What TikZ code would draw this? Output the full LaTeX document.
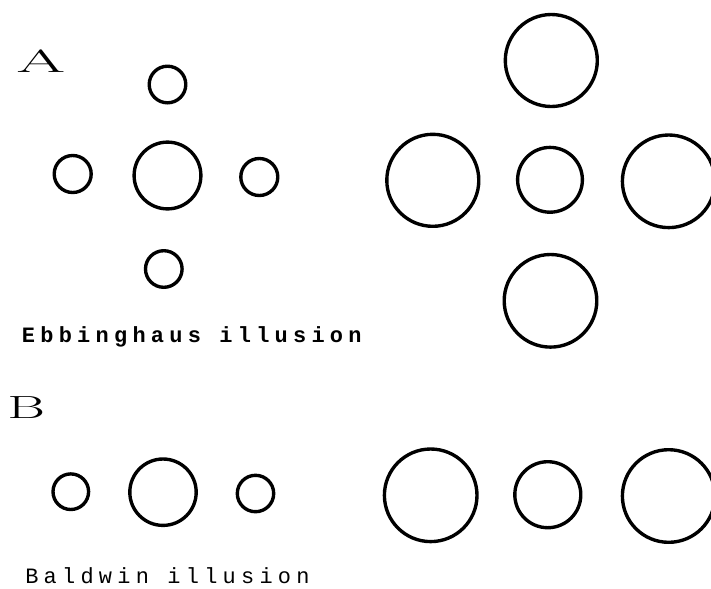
\documentclass[tikz,border=0pt]{standalone}
\usepackage{fontspec}
\usepackage{graphicx}
\newfontfamily\typefont{Liberation Mono}[LetterSpace=24]
\tikzset{
  ring/.style={draw=black,line width=2.4pt},
  panel/.style={font=\fontsize{22.8pt}{24pt}\selectfont,inner sep=0pt,anchor=base west},
  caption/.style={font=\typefont#1\fontsize{15.6pt}{18pt}\selectfont,inner sep=0pt,anchor=base west},
  caption/.default={},
}
\begin{document}
\begin{tikzpicture}[x=0.025cm,y=0.025cm]
  \useasboundingbox (0,0) rectangle (711,-588);
  \clip (0,0) rectangle (711,-588);
  % panel A: Ebbinghaus
  \node[panel] (lblA) at (16,-72) {\scalebox{2.2}[1]{A}};
  \foreach \x/\y/\r in {167.5/84.5/18.3, 72.7/174/18.5, 167.5/175.5/33.4, 259.3/177/18.5, 163.8/269/18.3,
      551.3/60.5/46, 432.8/180.3/46, 550/179.8/32.4, 668.7/181.3/46.3, 550.5/300.8/46.3}
    \draw[ring] (\x,-\y) circle (\r);
  \node[caption=\bfseries] (capA) at (21.7,-342) {Ebbinghaus illusion};
  % panel B: Baldwin
  \node[panel] (lblB) at (7,-418) {\scalebox{1.8}[1]{B}};
  \foreach \x/\y/\r in {70.8/491.7/17.8, 163/492.2/33.2, 255.5/493.5/18.2,
      430.7/495.3/46.3, 547.8/494.7/33, 668.7/496/46.3}
    \draw[ring] (\x,-\y) circle (\r);
  \node[caption] (capB) at (25,-583) {Baldwin illusion};
\end{tikzpicture}
\end{document}
